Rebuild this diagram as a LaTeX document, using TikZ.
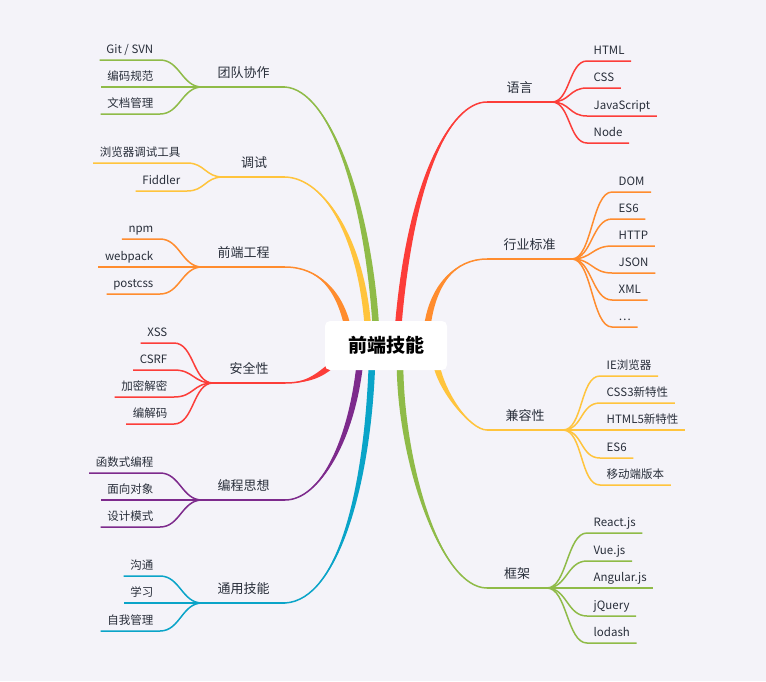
\documentclass[tikz,border=0pt]{standalone}
\usepackage{fontspec}
\setmainfont{Noto Sans CJK SC}
\usetikzlibrary{calc}

\definecolor{bgcol}{RGB}{244,243,249}
\definecolor{redcol}{RGB}{252,61,57}
\definecolor{orangecol}{RGB}{255,140,46}
\definecolor{yellowcol}{RGB}{255,196,61}
\definecolor{greencol}{RGB}{143,187,72}
\definecolor{purplecol}{RGB}{125,42,140}
\definecolor{cyancol}{RGB}{10,164,200}
\definecolor{textcol}{RGB}{40,46,58}

\pgfdeclarelayer{bg}
\pgfsetlayers{bg,main}

\tikzset{
  root/.style={fill=white, rounded corners=5pt, minimum width=122pt, minimum height=49pt,
    font=\fontsize{19}{19}\selectfont\bfseries, text=black},
  topic/.style={font=\fontsize{13}{13}\selectfont, text=textcol, inner xsep=0pt,
    inner ysep=7pt, text height=10pt, text depth=2pt},
  leaf/.style={font=\fontsize{11.5}{12}\selectfont, text=textcol, inner xsep=6.5pt,
    inner ysep=4pt, text height=9pt, text depth=2pt},
  twig/.style={line width=1.5pt}
}

% tapered main curve: colour, from, control 1, control 2, to, half width
\newcommand{\trunk}[6]{%
  \fill[#1] (#2) .. controls (#3) and ($(#4)+(#6)$) .. ($(#5)+(#6)$)
    -- ($(#5)-(#6)$) .. controls ($(#4)-(#6)$) and (#3) .. (#2) -- cycle;
  \draw[twig, #1] (#2) .. controls (#3) and (#4) .. (#5);}

\begin{document}
\begin{tikzpicture}[x=1pt, y=-1pt]
  \begin{pgfonlayer}{bg}
    \fill[bgcol] (0,0) rectangle (766,681);
  \end{pgfonlayer}

  % Centre
  \node[root] (root) at (386,345.5) {前端技能};

  % ---------- left side ----------
  % 团队协作
  \coordinate (td-in) at (285,87);
  \coordinate (td-fork) at (202,87);
  \node[topic, anchor=south] (td) at ($(td-in)!.5!(td-fork)$) {团队协作};
  \draw[twig, greencol] (td-in) -- (td-fork);
  \foreach \t/\y [count=\i] in {{Git / SVN}/60, 编码规范/87, 文档管理/114} {
    \node[leaf, anchor=south east] (td-\i) at (160,\y) {\t};
    \draw[twig, greencol] (td-fork) .. controls +(-20,0) and +(20,0) .. (td-\i.south east) -- (td-\i.south west);
  }

  % 调试
  \coordinate (ts-in) at (285,177);
  \coordinate (ts-fork) at (223,177);
  \node[topic, anchor=south] (ts) at ($(ts-in)!.5!(ts-fork)$) {调试};
  \draw[twig, yellowcol] (ts-in) -- (ts-fork);
  \foreach \t/\y [count=\i] in {浏览器调试工具/163, Fiddler/191} {
    \node[leaf, anchor=south east] (ts-\i) at (187,\y) {\t};
    \draw[twig, yellowcol] (ts-fork) .. controls +(-18,0) and +(18,0) .. (ts-\i.south east) -- (ts-\i.south west);
  }

  % 前端工程
  \coordinate (gc-in) at (285,267);
  \coordinate (gc-fork) at (202,267);
  \node[topic, anchor=south] (gc) at ($(gc-in)!.5!(gc-fork)$) {前端工程};
  \draw[twig, orangecol] (gc-in) -- (gc-fork);
  \foreach \t/\y [count=\i] in {npm/239, webpack/267, postcss/294} {
    \node[leaf, anchor=south east] (gc-\i) at (160,\y) {\t};
    \draw[twig, orangecol] (gc-fork) .. controls +(-20,0) and +(20,0) .. (gc-\i.south east) -- (gc-\i.south west);
  }

  % 安全性
  \coordinate (aq-in) at (285,383);
  \coordinate (aq-fork) at (213,383);
  \node[topic, anchor=south] (aq) at ($(aq-in)!.5!(aq-fork)$) {安全性};
  \draw[twig, redcol] (aq-in) -- (aq-fork);
  \foreach \t/\y [count=\i] in {XSS/343, CSRF/370, 加密解密/397, 编解码/424} {
    \node[leaf, anchor=south east] (aq-\i) at (174,\y) {\t};
    \draw[twig, redcol] (aq-fork) .. controls +(-20,0) and +(20,0) .. (aq-\i.south east) -- (aq-\i.south west);
  }

  % 编程思想
  \coordinate (bc-in) at (285,500);
  \coordinate (bc-fork) at (202,500);
  \node[topic, anchor=south] (bc) at ($(bc-in)!.5!(bc-fork)$) {编程思想};
  \draw[twig, purplecol] (bc-in) -- (bc-fork);
  \foreach \t/\y [count=\i] in {函数式编程/473, 面向对象/500, 设计模式/527} {
    \node[leaf, anchor=south east] (bc-\i) at (160,\y) {\t};
    \draw[twig, purplecol] (bc-fork) .. controls +(-20,0) and +(20,0) .. (bc-\i.south east) -- (bc-\i.south west);
  }

  % 通用技能
  \coordinate (ty-in) at (285,603);
  \coordinate (ty-fork) at (202,603);
  \node[topic, anchor=south] (ty) at ($(ty-in)!.5!(ty-fork)$) {通用技能};
  \draw[twig, cyancol] (ty-in) -- (ty-fork);
  \foreach \t/\y [count=\i] in {沟通/576, 学习/603, 自我管理/631} {
    \node[leaf, anchor=south east] (ty-\i) at (160,\y) {\t};
    \draw[twig, cyancol] (ty-fork) .. controls +(-20,0) and +(20,0) .. (ty-\i.south east) -- (ty-\i.south west);
  }

  % ---------- right side ----------
  % 语言
  \coordinate (yy-in) at (487,102);
  \coordinate (yy-fork) at (552,102);
  \node[topic, anchor=south] (yy) at ($(yy-in)!.5!(yy-fork)$) {语言};
  \draw[twig, redcol] (yy-in) -- (yy-fork);
  \foreach \t/\y [count=\i] in {HTML/61, CSS/88, JavaScript/116, Node/143} {
    \node[leaf, anchor=south west] (yy-\i) at (587,\y) {\t};
    \draw[twig, redcol] (yy-fork) .. controls +(18,0) and +(-18,0) .. (yy-\i.south west) -- (yy-\i.south east);
  }

  % 行业标准
  \coordinate (hy-in) at (487,259);
  \coordinate (hy-fork) at (572,259);
  \node[topic, anchor=south] (hy) at ($(hy-in)!.5!(hy-fork)$) {行业标准};
  \draw[twig, orangecol] (hy-in) -- (hy-fork);
  \foreach \t/\y [count=\i] in {DOM/192, ES6/219, HTTP/246, JSON/273, XML/300, \ldots/327} {
    \node[leaf, anchor=south west] (hy-\i) at (612,\y) {\t};
    \draw[twig, orangecol] (hy-fork) .. controls +(20,0) and +(-20,0) .. (hy-\i.south west) -- (hy-\i.south east);
  }

  % 兼容性
  \coordinate (jr-in) at (487,430);
  \coordinate (jr-fork) at (563,430);
  \node[topic, anchor=south] (jr) at ($(jr-in)!.5!(jr-fork)$) {兼容性};
  \draw[twig, yellowcol] (jr-in) -- (jr-fork);
  \foreach \t/\y [count=\i] in {IE浏览器/376, CSS3新特性/403, HTML5新特性/430, ES6/458, 移动端版本/485} {
    \node[leaf, anchor=south west] (jr-\i) at (600,\y) {\t};
    \draw[twig, yellowcol] (jr-fork) .. controls +(20,0) and +(-20,0) .. (jr-\i.south west) -- (jr-\i.south east);
  }

  % 框架
  \coordinate (kj-in) at (487,588);
  \coordinate (kj-fork) at (547,588);
  \node[topic, anchor=south] (kj) at ($(kj-in)!.5!(kj-fork)$) {框架};
  \draw[twig, greencol] (kj-in) -- (kj-fork);
  \foreach \t/\y [count=\i] in {React.js/533, Vue.js/561, Angular.js/588, jQuery/616, lodash/643} {
    \node[leaf, anchor=south west] (kj-\i) at (587,\y) {\t};
    \draw[twig, greencol] (kj-fork) .. controls +(20,0) and +(-20,0) .. (kj-\i.south west) -- (kj-\i.south east);
  }

  % ---------- main curves into the centre ----------
  \coordinate (td-end) at ($(root.north)+(-10,8)$);
  \coordinate (ts-end) at ($(root.north)+(-18,8)$);
  \coordinate (gc-end) at ($(root.north)+(-38,8)$);
  \coordinate (aq-end) at ($(root.south west)+(8,-6)$);
  \coordinate (bc-end) at ($(root.south)+(-26,-8)$);
  \coordinate (ty-end) at ($(root.south)+(-14,-8)$);
  \coordinate (yy-end) at ($(root.north)+(12,8)$);
  \coordinate (hy-end) at ($(root.north)+(41,8)$);
  \coordinate (jr-end) at ($(root.south)+(50,-8)$);
  \coordinate (kj-end) at ($(root.south)+(14,-8)$);
  \begin{pgfonlayer}{bg}
    \trunk{greencol}{td-in}{330,90}{368,200}{td-end}{3.3,0}
    \trunk{yellowcol}{ts-in}{325,178}{362,240}{ts-end}{3.3,0}
    \trunk{orangecol}{gc-in}{318,267}{340,290}{gc-end}{3.3,0}
    \trunk{redcol}{aq-in}{305,383}{318,377}{aq-end}{1.4,2.9}
    \trunk{purplecol}{bc-in}{320,500}{352,440}{bc-end}{3.3,0}
    \trunk{cyancol}{ty-in}{340,600}{368,480}{ty-end}{3.3,0}
    \trunk{redcol}{yy-in}{450,102}{410,180}{yy-end}{3.3,0}
    \trunk{orangecol}{hy-in}{455,259}{432,285}{hy-end}{3.3,0}
    \trunk{yellowcol}{jr-in}{470,430}{440,390}{jr-end}{3.3,0}
    \trunk{greencol}{kj-in}{440,588}{400,460}{kj-end}{3.3,0}
  \end{pgfonlayer}
\end{tikzpicture}
\end{document}
